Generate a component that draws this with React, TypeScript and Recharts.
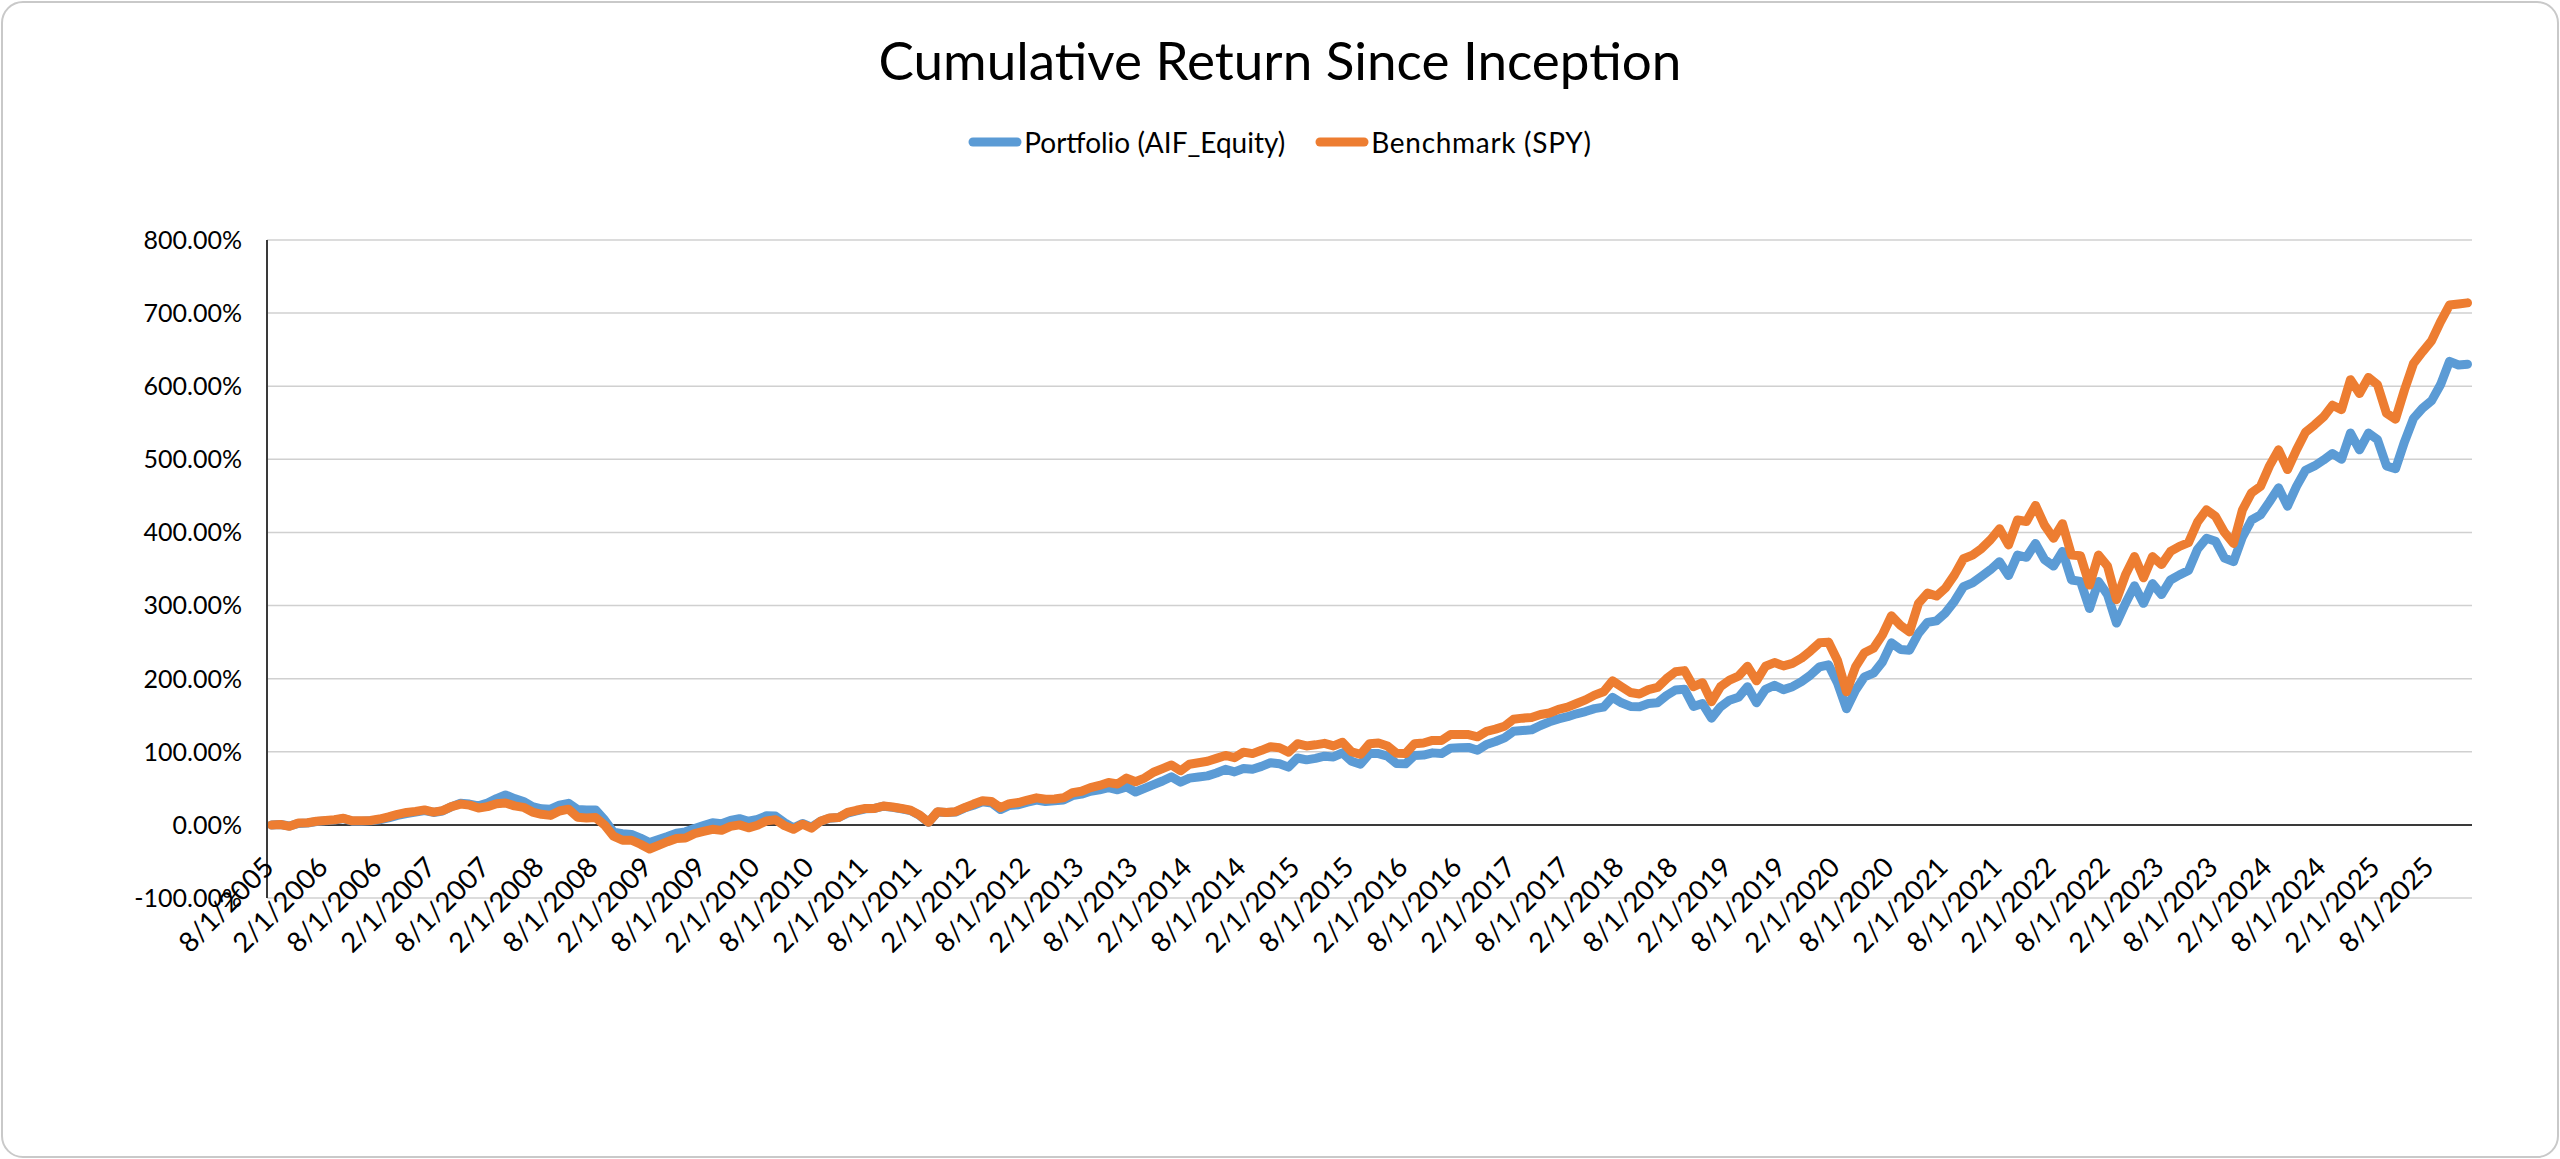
import React from 'react';
import { LineChart, Line, XAxis, YAxis, CartesianGrid, ReferenceLine } from 'recharts';

// ---- Data (cumulative return, %) ----
const START_YEAR = 2005;
const START_MONTH = 8;

const portfolio: number[] = [
  0, 0.5, -1.5, 2, 2.5, 4.5, 5.5, 6.5, 8.5, 5,
  5, 5.5, 7, 9.5, 13, 15.5, 17.5, 19.5, 17, 19,
  25, 29.5, 28.5, 26, 30, 36, 41, 36, 32, 25,
  22, 21.5, 27, 29.5, 21, 20.5, 20.5, 7, -10, -12,
  -13, -18, -24, -20, -16, -11.5, -9.5, -5, -1, 3,
  1.5, 6, 8.5, 5, 7.5, 12.5, 12, 3, -4, 2,
  -3, 5, 9, 10, 16, 19, 22, 22.5, 25.5, 24,
  22, 19.5, 13, 3.5, 17.5, 17, 17.5, 23, 27, 31.5,
  30, 21, 26.5, 27.5, 31, 34, 32, 33, 34, 40,
  42, 46, 48, 51, 48, 52, 45, 50, 55, 60,
  65.8, 58.5, 64, 65.5, 67, 71, 76, 72.5, 77, 76,
  80, 85, 83.5, 79, 91.5, 89, 91, 94, 93, 98.5,
  87, 83, 97.5, 97.5, 94, 84, 83.5, 95, 95.5, 98.5,
  97.5, 105, 105.5, 106, 102, 110, 114, 119, 128, 129,
  130, 136, 141, 145, 148, 152, 155, 159, 161, 174.5,
  167, 162, 161.5, 166, 167, 177, 184.5, 185.5, 162, 166,
  146, 161.5, 170.5, 174.5, 189, 167, 185.5, 191, 185, 189,
  196, 205, 216, 219, 194, 159, 184, 202.5, 207.5, 223,
  249, 240, 239, 262, 277, 279, 290, 306, 326, 331,
  340, 349, 360, 341, 369, 366, 385, 363, 354, 374,
  335, 333, 296, 333, 315, 276, 303, 327, 303, 330,
  315, 335, 342, 348, 377, 392, 388, 365, 360, 394,
  417, 424, 442, 461, 436, 463, 485, 491, 499, 508,
  500, 536, 513, 536, 527, 491, 487, 524, 556, 570,
  580, 602, 634, 629, 630,
];

const benchmark: number[] = [
  0, 0.5, -2, 2.5, 3, 5, 6, 7, 9, 5.5,
  5.5, 6, 8, 11, 14.5, 17, 18.5, 20.5, 17.5, 19.5,
  25, 28.5, 27, 23, 25, 29, 30, 26, 24, 17.5,
  14.5, 13, 19, 21.5, 10.5, 9.5, 10, 0, -15.5, -21,
  -21, -26.5, -33, -28, -23, -18.5, -18, -12, -9, -6,
  -7.5, -2, 0, -4, -0.5, 5.5, 7, -1, -6, 1,
  -4.5, 5, 9.5, 10, 17, 20, 22.5, 22.5, 25.8, 24.5,
  22.5, 20, 13.5, 3.5, 18, 17, 18, 23.5, 28.5, 33,
  32, 23.5, 29, 30.5, 34, 37, 35, 35.5, 37, 44,
  46, 51, 54, 58, 56, 64, 59, 64, 72, 77,
  82, 74, 83, 85, 87, 91, 95, 92, 99.5, 97.5,
  102, 107, 105.5, 99.5, 111, 108, 109.5, 111.5, 108, 113,
  100, 96.5, 111, 112, 108, 98, 97.5, 111, 112, 115.5,
  115.5, 123.5, 123.5, 123.5, 120.5, 128, 131, 135, 144.5, 146,
  147, 151, 153, 158, 161, 166, 171, 177.5, 182, 197,
  189, 181, 179, 185, 188, 200, 209.5, 211, 189, 194.5,
  168.5, 189, 198, 203.5, 217, 197, 217, 222, 217.5, 221,
  228, 238, 249, 250, 225, 182, 216, 235.5, 241.5, 260,
  286, 273, 264, 303, 317, 313, 324, 342, 364, 369,
  378, 390, 405, 383, 417, 415, 437, 410, 392, 412,
  369, 368, 328, 369, 354, 308, 342, 367, 338, 367,
  356, 374, 381, 386, 414, 431, 422, 400, 385, 431,
  454, 463, 491, 513, 486, 513, 537, 547, 558, 574,
  568, 609, 590, 612, 602, 563, 555, 595, 631, 647,
  662, 688, 711, 712.5, 714,
];

const yTicks: number[] = [-100, 0, 100, 200, 300, 400, 500, 600, 700, 800];

const seriesInfo = [
  { key: 'portfolio', name: 'Portfolio (AIF_Equity)', color: '#5B9BD5' },
  { key: 'benchmark', name: 'Benchmark (SPY)', color: '#ED7D31' },
];

const dates: string[] = portfolio.map((_, i) => {
  const m = START_MONTH - 1 + i;
  return `${(m % 12) + 1}/1/${START_YEAR + Math.floor(m / 12)}`;
});

const data = dates.map((d, i) => ({ date: d, portfolio: portfolio[i], benchmark: benchmark[i] }));

// ---- Layout ----
const W = 2560;
const H = 1159;
const PLOT_LEFT = 267;
const PLOT_RIGHT = 2472;
const PLOT_TOP = 240;
const PLOT_BOTTOM = 898;
const Y_MIN = -100;
const Y_MAX = 800;
const ZERO_Y = PLOT_TOP + ((PLOT_BOTTOM - PLOT_TOP) * Y_MAX) / (Y_MAX - Y_MIN);
const FONT = 'Lato, "Liberation Sans", Arial, sans-serif';

const XTick = (props: any) => {
  const { x, payload } = props;
  return (
    <g transform={`translate(${x + 4},${ZERO_Y + 44}) rotate(-45)`}>
      <text x={0} y={0} textAnchor="end" fontSize={27.5} fontFamily={FONT} fill="#000">
        {payload.value}
      </text>
    </g>
  );
};

export default function App() {
  return (
    <div
      style={{
        position: 'absolute',
        left: 0,
        top: 0,
        width: W,
        height: H,
        background: '#fff',
        fontFamily: FONT,
      }}
    >
      <div
        style={{
          position: 'absolute',
          left: 1,
          top: 1,
          width: W - 2,
          height: H - 2,
          boxSizing: 'border-box',
          border: '2px solid #c9c9c9',
          borderRadius: 22,
        }}
      />
      <div
        style={{
          position: 'absolute',
          left: 0,
          top: 28,
          width: W,
          textAlign: 'center',
          fontSize: 53,
          lineHeight: '64px',
          color: '#000',
        }}
      >
        Cumulative Return Since Inception
      </div>
      <div
        style={{
          position: 'absolute',
          left: 0,
          top: 124,
          width: W,
          display: 'flex',
          justifyContent: 'center',
          alignItems: 'center',
          fontSize: 28,
          lineHeight: '36px',
          color: '#000',
        }}
      >
        {seriesInfo.map((s, i) => (
          <div key={s.key} style={{ display: 'flex', alignItems: 'center', marginLeft: i === 0 ? 0 : 30 }}>
            <svg width={54} height={16} style={{ marginRight: 2 }}>
              <line x1={5} y1={8} x2={49} y2={8} stroke={s.color} strokeWidth={9} strokeLinecap="round" />
            </svg>
            <span style={{ letterSpacing: i === 1 ? 0.7 : 0 }}>{s.name}</span>
          </div>
        ))}
      </div>
      <div style={{ position: 'absolute', left: 0, top: 0 }}>
        <LineChart
          width={W}
          height={H}
          data={data}
          margin={{ top: PLOT_TOP, right: W - PLOT_RIGHT, bottom: H - PLOT_BOTTOM - 1, left: 0 }}
        >
          <CartesianGrid vertical={false} stroke="#d0d0d0" strokeWidth={1.5} />
          <XAxis
            dataKey="date"
            interval={5}
            tickLine={false}
            axisLine={false}
            height={1}
            padding={{ left: 4.5, right: 4.5 }}
            tick={<XTick />}
          />
          <YAxis
            width={PLOT_LEFT}
            domain={[Y_MIN, Y_MAX]}
            ticks={yTicks}
            interval={0}
            tickLine={false}
            tickSize={0}
            tickMargin={25}
            axisLine={{ stroke: '#3a3a3a', strokeWidth: 2 }}
            tickFormatter={(v: number) => `${v.toFixed(2)}%`}
            tick={{ fontSize: 25, fill: '#000', fontFamily: FONT }}
          />
          <ReferenceLine y={0} stroke="#3a3a3a" strokeWidth={2} />
          {seriesInfo.map((s) => (
            <Line
              key={s.key}
              type="linear"
              dataKey={s.key}
              name={s.name}
              stroke={s.color}
              strokeWidth={9}
              strokeLinejoin="round"
              strokeLinecap="round"
              dot={false}
              activeDot={false}
              isAnimationActive={false}
            />
          ))}
        </LineChart>
      </div>
    </div>
  );
}
